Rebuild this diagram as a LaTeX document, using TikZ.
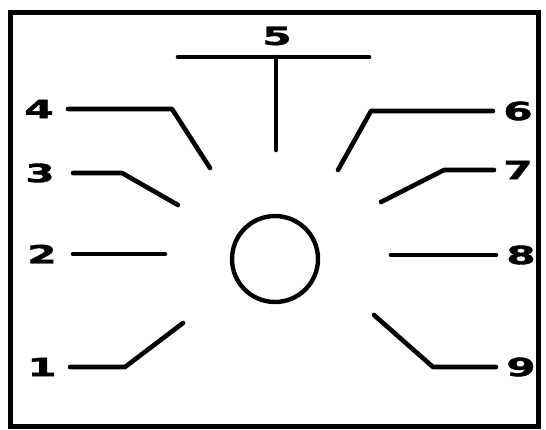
\documentclass[tikz,border=0pt]{standalone}
\usepackage{fontspec}
\newfontfamily\numfont[FakeStretch=1.7, FakeBold=1.5]{DejaVu Sans}
\usetikzlibrary{positioning}

\begin{document}
\begin{tikzpicture}[
    x=1pt, y=-1pt,
    num/.style   ={font=\numfont\bfseries\fontsize{25}{25}\selectfont, inner sep=0pt},
    lead/.style  ={line width=4.6pt, line cap=round, line join=round},
    frame/.style ={line width=5pt},
    lamp/.style  ={circle, draw, line width=4.4pt, minimum size=86pt, inner sep=0pt},
]
\useasboundingbox (0,0) rectangle (546,429);

%==================== FRAME ====================
\draw[frame] (10,12) rectangle (538,426);

%==================== LABELS ====================
\node[num] (n5) at (277,36)  {5};
\node[num] (n4) at (39,109)  {4};
\node[num] (n3) at (40,173)  {3};
\node[num] (n2) at (42,254)  {2};
\node[num] (n1) at (42,367)  {1};
\node[num] (n6) at (518,111) {6};
\node[num] (n7) at (518,170) {7};
\node[num] (n8) at (521,255) {8};
\node[num] (n9) at (521,367) {9};

% centre circle
\node[lamp] (lamp) at (275,259) {};

%==================== BENDS AND ENDS ====================
\coordinate (t5l) at (178,57);
\coordinate (t5r) at (369,57);
\coordinate (e5)  at (276,150);
\coordinate (b4)  at (172,108);
\coordinate (e4)  at (210,168);
\coordinate (b3)  at (122,172);
\coordinate (e3)  at (178,205);
\coordinate (e2)  at (165,254);
\coordinate (b1)  at (125,368);
\coordinate (e1)  at (183,323);
\coordinate (b6)  at (371,109);
\coordinate (e6)  at (338,170);
\coordinate (b7)  at (444,168);
\coordinate (e7)  at (381,202);
\coordinate (e8)  at (391,255);
\coordinate (b9)  at (433,366);
\coordinate (e9)  at (374,315);

%==================== LEADS ====================
\draw[lead] (t5l) -- (t5r);
\draw[lead] (e5) -- (e5 |- t5l);

\draw[lead, shorten <=29pt] (n4.center) -- (n4 -| b4) -- (e4);
\draw[lead, shorten <=33pt] (n3.center) -- (n3 -| b3) -- (e3);
\draw[lead, shorten <=31pt] (n2.center) -- (e2);
\draw[lead, shorten <=28pt] (n1.center) -- (n1 -| b1) -- (e1);

\draw[lead, shorten <=25pt] (n6.center) -- (n6 -| b6) -- (e6);
\draw[lead, shorten <=24pt] (n7.center) -- (n7 -| b7) -- (e7);
\draw[lead, shorten <=25pt] (n8.center) -- (e8);
\draw[lead, shorten <=25pt] (n9.center) -- (n9 -| b9) -- (e9);

\end{tikzpicture}
\end{document}
